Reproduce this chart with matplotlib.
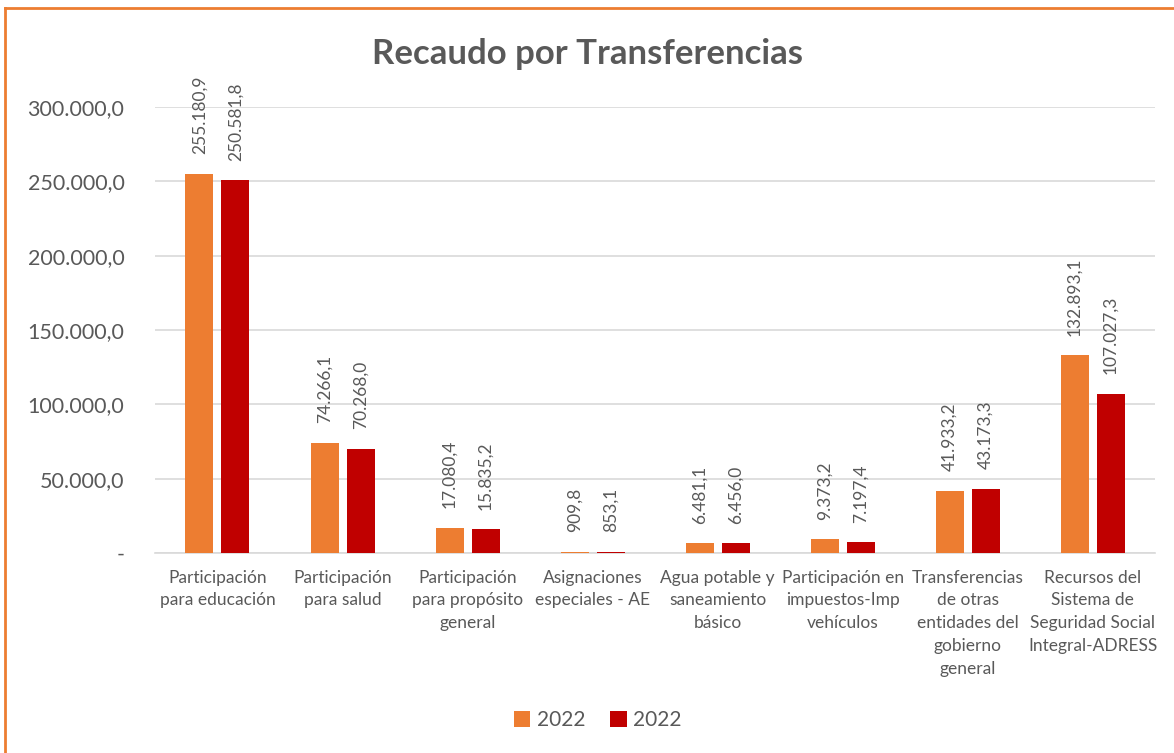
import numpy as np
import matplotlib.pyplot as plt
from matplotlib.ticker import FuncFormatter

categorias = ["Participación\npara educación", "Participación\npara salud",
              "Participación\npara propósito\ngeneral", "Asignaciones\nespeciales - AE",
              "Agua potable y\nsaneamiento\nbásico", "Participación en\nimpuestos-Imp\nvehículos",
              "Transferencias\nde otras\nentidades del\ngobierno\ngeneral",
              "Recursos del\nSistema de\nSeguridad Social\nIntegral-ADRESS"]
serie_a = [255180.9, 74266.1, 17080.4, 909.8, 6481.1, 9373.2, 41933.2, 132893.1]
serie_b = [250581.8, 70268.0, 15835.2, 853.1, 6456.0, 7197.4, 43173.3, 107027.3]
nombres = ["2022", "2022"]
colores = ["#ED7D31", "#C00000"]

gris = "#595959"
plt.rcParams['font.family'] = ['Lato', 'DejaVu Sans']


def fmt_es(v, dec=1):
    s = f"{v:,.{dec}f}"
    return s.replace(",", "X").replace(".", ",").replace("X", ".")


fig = plt.figure(figsize=(11.74, 7.53), dpi=100)
ax = fig.add_axes([0.132, 0.2656, 0.852, 0.5923])

x = np.arange(len(categorias))
w = 0.224
off = 0.144
barras = []
for i, (vals, col) in enumerate(zip([serie_a, serie_b], colores)):
    pos = x + (-off if i == 0 else off)
    b = ax.bar(pos, vals, w, color=col, label=nombres[i], zorder=3)
    barras.append(b)
    for p, v in zip(pos, vals):
        ax.annotate(fmt_es(v), (p, v), xytext=(0, 14), textcoords="offset points",
                    rotation=90, ha="center", va="bottom", fontsize=12.5,
                    color=gris, annotation_clip=False)

ax.set_xlim(-0.5, len(categorias) - 0.5)
ax.set_ylim(0, 300000)
ax.set_yticks(np.arange(0, 300001, 50000))
ax.yaxis.set_major_formatter(FuncFormatter(lambda v, p: "-" if v == 0 else fmt_es(v)))
ax.grid(axis="y", color="#D9D9D9", linewidth=1.2, zorder=0)
for s in ["top", "right", "left"]:
    ax.spines[s].set_visible(False)
ax.spines["bottom"].set_color("#D9D9D9")
ax.spines["bottom"].set_linewidth(1.2)
ax.tick_params(axis="both", length=0, colors=gris)
ax.tick_params(axis="y", labelsize=15.5, pad=22)
ax.set_xticks(x)
ax.set_xticklabels(categorias, fontsize=12.5, color=gris, linespacing=1.52)
ax.tick_params(axis="x", pad=12)

fig.text(0.5, 0.928, "Recaudo por Transferencias", ha="center", va="center",
         fontsize=25, fontweight="bold", color=gris)

fig.legend(handles=barras, labels=nombres, loc="center", bbox_to_anchor=(0.509, 0.044),
           ncol=2, frameon=False, fontsize=15, labelcolor=gris, handlelength=0.8,
           handleheight=0.8, handletextpad=0.3, columnspacing=1.2)

# borde naranja superior e izquierdo
fig.add_artist(plt.Line2D([0.0045, 0.0045], [0, 0.99], color="#ED7D31", lw=2,
                          transform=fig.transFigure))
fig.add_artist(plt.Line2D([0.0045, 1], [0.99, 0.99], color="#ED7D31", lw=2,
                          transform=fig.transFigure))

fig.savefig("out.png", dpi=100, facecolor="white")
